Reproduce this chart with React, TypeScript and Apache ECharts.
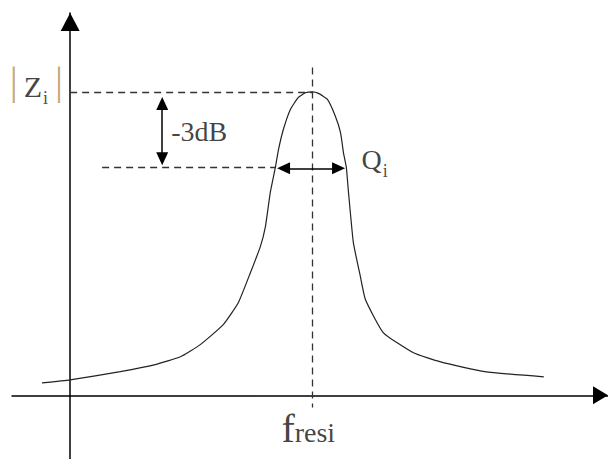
import React, { useEffect, useRef } from 'react';
import * as echarts from 'echarts';

// Resonance curve |Zi| versus frequency (f_resi = 100, peak = 100)
const curveX = [-11.6, 0, 20.7, 35.1, 45.5, 53.7, 63.2, 69.4, 74.4, 78.5, 80.6, 82.6, 84.7, 86.0, 88.0, 90.9, 94.2, 97.1, 100, 102.5, 106.2, 109.5, 111.6, 112.8, 114.0, 114.9, 116.9, 119.8, 121.9, 129.3, 141.7, 152.9, 171.1, 195.5];
const curveY = [4.1, 5.1, 7.8, 10.1, 12.7, 16.7, 23.3, 30.5, 40.4, 49.0, 55.6, 66.8, 75.1, 81.0, 87.6, 94.2, 98.2, 99.7, 100, 99.5, 97.5, 91.9, 86.6, 80.0, 75.1, 66.8, 50.3, 39.1, 31.5, 20.6, 14.0, 11.0, 7.8, 6.1];

// dashed guide lines: [x1, y1, x2, y2]
const guidePeak = [0, 100, 100, 100];
const guide3dB = [13.2, 75.2, 84.7, 75.2];
const guideFres = [100, 108, 100, -4.0];

// double-headed arrows (shaft ends, heads centred on them): [x1, y1, x2, y2]
const arrowDb = [38, 96.2, 38, 78.0];
const arrowQ = [88.1, 74.8, 110.8, 74.8];

// annotation texts
const labelTexts = ['{bar||}{z|Z}{subZ|i}{barR||}', '{m|-3dB}', '{q|Q}{subQ|i}', '{f|f}{res|resi}'];
const labelX = [-2.95, 41.7, 120.3, 87.2];
const labelY = [101.7, 86.8, 77.6, -11];
const labelAlign = ['right', 'left', 'left', 'left'];

const SERIF = 'Liberation Serif';

export default function App() {
  const ref = useRef<HTMLDivElement>(null);
  useEffect(() => {
    if (!ref.current) return;
    const chart = echarts.init(ref.current, undefined, { renderer: 'svg' });
    const dashed = { type: [7, 5] as any, color: '#333', width: 1.3 };
    const seg = (a: number[]) => [
      { coord: [a[0], a[1]], symbol: 'none' },
      { coord: [a[2], a[3]], symbol: 'none' },
    ];
    const arrowSeg = (a: number[]) => [
      { coord: [a[0], a[1]], symbol: 'triangle' },
      { coord: [a[2], a[3]], symbol: 'triangle' },
    ];
    const rich = {
      bar: { fontFamily: SERIF, fontSize: 40, color: '#b8904f', padding: [0, 6, 13, 0] },
      barR: { fontFamily: SERIF, fontSize: 40, color: '#b8904f', padding: [0, 0, 13, 7] },
      z: { fontFamily: SERIF, fontSize: 30, color: '#111' },
      subZ: { fontFamily: SERIF, fontSize: 18, color: '#2a1a08', padding: [22, 0, 0, 1] },
      m: { fontFamily: SERIF, fontSize: 28, color: '#111' },
      q: { fontFamily: SERIF, fontSize: 28, color: '#111' },
      subQ: { fontFamily: SERIF, fontSize: 18, color: '#2a1a08', padding: [22, 0, 0, 1] },
      f: { fontFamily: SERIF, fontSize: 40, color: '#111', verticalAlign: 'bottom', lineHeight: 40 },
      res: { fontFamily: SERIF, fontSize: 28, color: '#111', verticalAlign: 'bottom', lineHeight: 28, padding: [0, 0, 2, 0] },
    };
    chart.setOption({
      animation: false,
      backgroundColor: '#fff',
      textStyle: { fontFamily: SERIF },
      grid: { left: 12, right: 0, top: 13, bottom: 0, containLabel: false },
      xAxis: {
        type: 'value', min: -24, max: 222,
        axisLine: { onZero: true, symbol: ['none', 'triangle'], symbolSize: [18, 15], symbolOffset: [0, -7.5], lineStyle: { color: '#000', width: 1.5 } },
        axisTick: { show: false }, axisLabel: { show: false }, splitLine: { show: false },
      },
      yAxis: {
        type: 'value', min: -21, max: 126,
        axisLine: { show: true, onZero: true, symbol: ['none', 'triangle'], symbolSize: [19, 18], symbolOffset: [0, -9], lineStyle: { color: '#000', width: 1.5 } },
        axisTick: { show: false }, axisLabel: { show: false }, splitLine: { show: false },
      },
      series: [
        {
          type: 'line',
          data: curveX.map((x, i) => [x, curveY[i]]),
          smooth: 0.15,
          showSymbol: false,
          lineStyle: { color: '#222', width: 1.2 },
          silent: true,
          markLine: {
            silent: true,
            symbol: 'none',
            label: { show: false },
            lineStyle: dashed,
            data: [seg(guidePeak), seg(guide3dB), seg(guideFres)],
          },
        },
        {
          type: 'scatter',
          symbolSize: 0,
          silent: true,
          clip: false,
          data: labelX.map((x, i) => ({
            value: [x, labelY[i]],
            label: {
              show: true,
              position: [0, 0],
              align: labelAlign[i],
              verticalAlign: 'middle',
              fontFamily: SERIF,
              fontSize: 28,
              formatter: labelTexts[i],
              rich,
            },
          })),
          markLine: {
            silent: true,
            symbolSize: [12, 13],
            label: { show: false },
            lineStyle: { color: '#000', width: 1.5, type: 'solid' },
            data: [arrowSeg(arrowDb), arrowSeg(arrowQ)],
          },
        },
      ],
    });
    return () => chart.dispose();
  }, []);
  return <div ref={ref} style={{ position: 'absolute', left: 0, top: 0, width: 608, height: 459 }} />;
}
